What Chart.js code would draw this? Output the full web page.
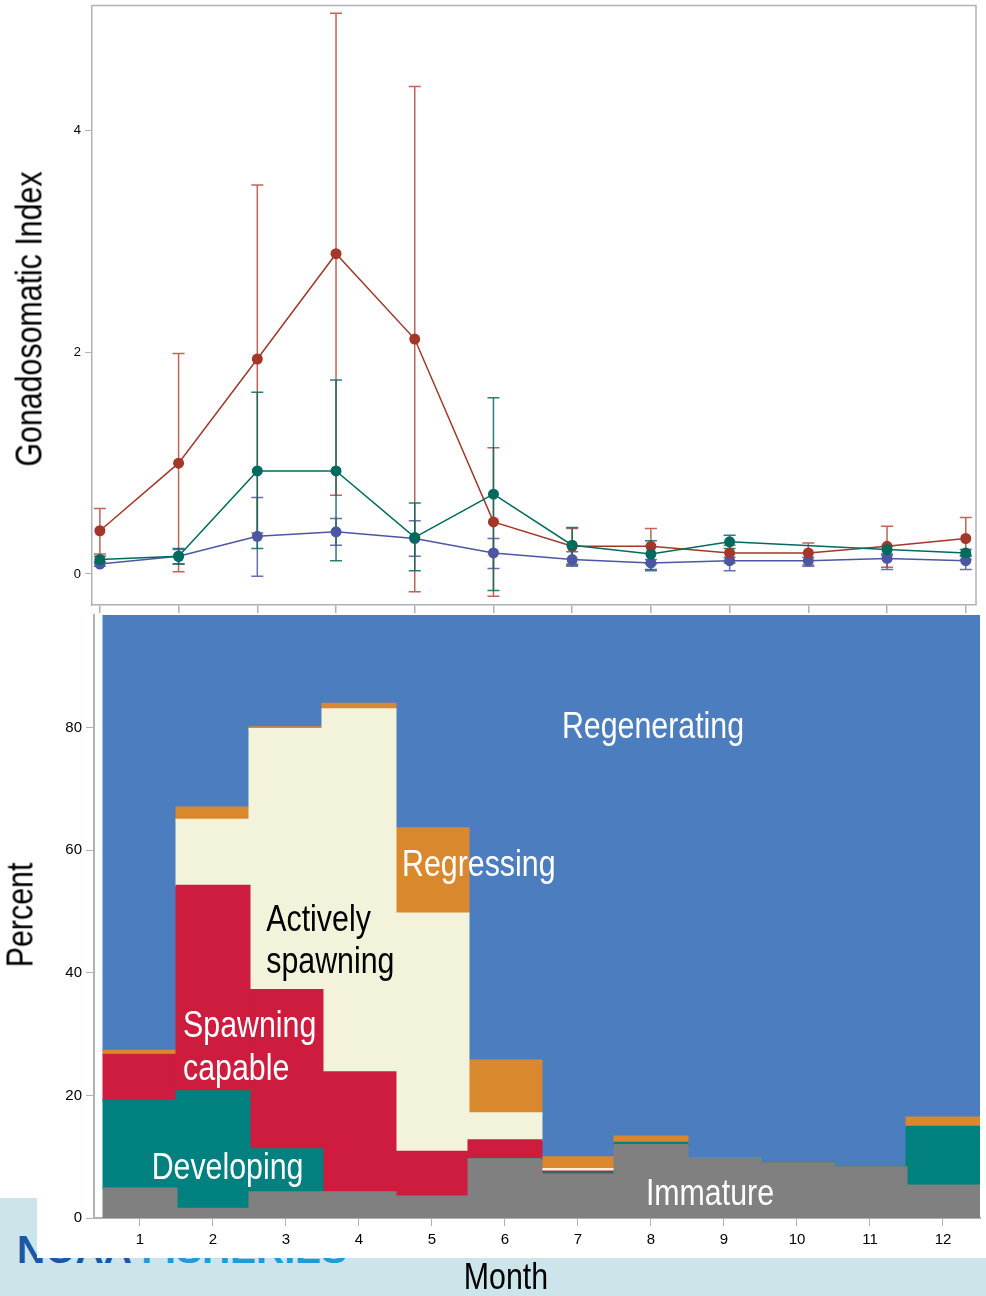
<!DOCTYPE html>
<html lang="en">
<head>
    <meta charset="UTF-8">
    <title>Gonadosomatic Index and Reproductive Phase by Month</title>
    <script src="https://cdn.jsdelivr.net/npm/chart.js"></script>
    <style>
        body { margin: 0; width: 986px; height: 1296px; position: relative; overflow: hidden; background: #cce5ea; font-family: "Liberation Sans", Arial, sans-serif; }
        .logo { position: absolute; left: 17px; top: 1230px; font: bold 39px "Liberation Sans", Arial, sans-serif; line-height: 1; white-space: nowrap; }
        .logo .noaa { color: #1b57a5; }
        .logo .fish { color: #1f9bd7; }
        .sheet { position: absolute; background: #fff; }
        canvas { position: absolute; left: 0; }
        #gsi { top: 0; }
        #phase { top: 607px; }
        .axis-title { position: absolute; font-size: 37px; line-height: 1; color: #000; white-space: nowrap; transform: translate(-50%, -50%) scaleX(0.82); }
        .axis-title.vertical { transform: translate(-50%, -50%) rotate(-90deg) scaleX(0.82); }
    </style>
</head>
<body>
    <div class="logo"><span class="noaa">NOAA</span> <span class="fish">FISHERIES</span></div>
    <div class="sheet" style="left:0; top:0; width:37px; height:1198px;"></div>
    <div class="sheet" style="left:37px; top:0; width:949px; height:1258px;"></div>

    <canvas id="gsi" width="986" height="615"></canvas>
    <canvas id="phase" width="986" height="689"></canvas>

    <div class="axis-title vertical" style="left:29px; top:319px;">Gonadosomatic Index</div>
    <div class="axis-title vertical" style="left:20px; top:915px;">Percent</div>
    <div class="axis-title" style="left:506px; top:1276px;">Month</div>

    <script>
        // months
        const months = [1, 2, 3, 4, 5, 6, 7, 8, 9, 10, 11, 12];

        // gonadosomatic index (mean, upper and lower error bar)
        const gsiRed = [0.39, 1.00, 1.94, 2.89, 2.12, 0.47, 0.25, 0.25, 0.19, 0.19, 0.25, 0.32];
        const gsiRedHigh = [0.59, 1.99, 3.51, 5.06, 4.40, 1.14, 0.41, 0.41, 0.26, 0.28, 0.43, 0.51];
        const gsiRedLow = [0.18, 0.02, 0.37, 0.71, -0.16, -0.20, 0.09, 0.09, 0.10, 0.08, 0.06, 0.13];

        const gsiTeal = [0.13, 0.16, 0.93, 0.93, 0.33, 0.72, 0.26, 0.18, 0.29, null, 0.22, 0.19];
        const gsiTealHigh = [0.16, 0.23, 1.64, 1.75, 0.64, 1.59, 0.42, 0.30, 0.35, null, 0.25, 0.22];
        const gsiTealLow = [0.10, 0.09, 0.23, 0.12, 0.03, -0.15, 0.08, 0.04, 0.23, null, 0.18, 0.16];

        const gsiBlue = [0.09, 0.16, 0.34, 0.38, 0.32, 0.19, 0.13, 0.10, 0.12, 0.12, 0.14, 0.12];
        const gsiBlueHigh = [0.11, 0.22, 0.69, 0.50, 0.48, 0.32, 0.20, 0.13, 0.15, 0.15, 0.17, 0.17];
        const gsiBlueLow = [0.07, 0.09, -0.02, 0.26, 0.16, 0.05, 0.07, 0.03, 0.03, 0.07, 0.04, 0.04];

        const gsiTicks = [0, 2, 4];

        // reproductive phase, percent of fish per month
        const immature = [4.8, 1.5, 4.2, 4.2, 3.5, 9.6, 7.1, 11.9, 9.8, 8.9, 8.3, 5.3];
        const developing = [14.4, 19.2, 7.0, 0, 0, 0, 0.2, 0.4, 0, 0, 0, 9.6];
        const spawningCapable = [7.5, 33.5, 26.0, 19.6, 7.3, 3.1, 0.3, 0, 0, 0, 0, 0];
        const activelySpawning = [0, 10.8, 42.6, 59.2, 38.9, 4.4, 0.4, 0, 0, 0, 0, 0];
        const regressing = [0.6, 2.0, 0.3, 0.9, 13.9, 8.6, 1.9, 1.0, 0, 0, 0, 1.5];
        const regenerating = [72.7, 33.0, 19.9, 16.1, 36.4, 74.3, 90.1, 86.7, 90.2, 91.1, 91.7, 83.6];

        const percentTicks = [0, 20, 40, 60, 80];

        const frameColor = '#aeb2b6';
        const tickFont = { family: '"Liberation Sans", Arial', size: 12 };

        // labels written on the phase areas (month, percent)
        const phaseNotes = [
            { text: 'Regenerating', color: '#ffffff', x: 6.78, y: 78.3 },
            { text: 'Regressing', color: '#ffffff', x: 4.59, y: 55.8 },
            { text: 'Actively', color: '#000000', x: 2.73, y: 46.9 },
            { text: 'spawning', color: '#000000', x: 2.73, y: 40.0 },
            { text: 'Spawning', color: '#ffffff', x: 1.59, y: 29.5 },
            { text: 'capable', color: '#ffffff', x: 1.59, y: 22.6 },
            { text: 'Developing', color: '#ffffff', x: 1.16, y: 6.3 },
            { text: 'Immature', color: '#ffffff', x: 7.93, y: 2.2 }
        ];

        // drop the automatic label padding so the plot areas sit where the original has them
        function noPadding(s) {
            s.paddingTop = 0; s.paddingBottom = 0; s.paddingLeft = 0; s.paddingRight = 0;
        }

        const errorBars = {
            id: 'errorBars',
            beforeDatasetsDraw(chart) {
                const { ctx, scales: { x, y } } = chart;
                ctx.save();
                ctx.lineWidth = 1.5;
                chart.data.datasets.slice().reverse().forEach(ds => {
                    ctx.strokeStyle = ds.errorColor;
                    ds.data.forEach((v, i) => {
                        if (v == null || ds.errHigh[i] == null) return;
                        const px = x.getPixelForValue(months[i]);
                        const top = y.getPixelForValue(ds.errHigh[i]);
                        const bot = y.getPixelForValue(ds.errLow[i]);
                        ctx.beginPath();
                        ctx.moveTo(px, top); ctx.lineTo(px, bot);
                        ctx.moveTo(px - 6, top); ctx.lineTo(px + 6, top);
                        ctx.moveTo(px - 6, bot); ctx.lineTo(px + 6, bot);
                        ctx.stroke();
                    });
                });
                ctx.restore();
            }
        };

        const boxFrame = {
            id: 'boxFrame',
            afterDraw(chart) {
                const { ctx, chartArea: a } = chart;
                ctx.save();
                ctx.strokeStyle = frameColor;
                ctx.lineWidth = 1.5;
                ctx.beginPath();
                ctx.moveTo(a.left, a.top); ctx.lineTo(a.right, a.top); ctx.lineTo(a.right, a.bottom);
                ctx.stroke();
                ctx.restore();
            }
        };

        const notesPlugin = {
            id: 'phaseNotes',
            afterDatasetsDraw(chart) {
                const { ctx, scales: { x, y } } = chart;
                ctx.save();
                ctx.font = '37px "Liberation Sans", Arial';
                ctx.textAlign = 'left';
                ctx.textBaseline = 'alphabetic';
                phaseNotes.forEach(n => {
                    ctx.save();
                    ctx.translate(x.getPixelForValue(n.x), y.getPixelForValue(n.y));
                    ctx.scale(0.82, 1);
                    ctx.fillStyle = n.color;
                    ctx.fillText(n.text, 0, 0);
                    ctx.restore();
                });
                ctx.restore();
            }
        };

        function gsiSeries(data, high, low, color, errorColor) {
            return {
                data: data, errHigh: high, errLow: low, errorColor: errorColor,
                borderColor: color, backgroundColor: color, borderWidth: 1.5,
                pointRadius: 5.5, pointBorderWidth: 0, pointBackgroundColor: color,
                tension: 0, spanGaps: true
            };
        }

        new Chart(document.getElementById('gsi'), {
            type: 'line',
            data: {
                labels: months,
                datasets: [
                    gsiSeries(gsiTeal, gsiTealHigh, gsiTealLow, '#006b5c', 'rgba(0, 107, 92, 0.85)'),
                    gsiSeries(gsiRed, gsiRedHigh, gsiRedLow, '#a3372a', 'rgba(176, 60, 48, 0.8)'),
                    gsiSeries(gsiBlue, gsiBlueHigh, gsiBlueLow, '#4b57a2', 'rgba(75, 87, 162, 0.85)')
                ]
            },
            options: {
                responsive: false,
                animation: false,
                layout: { padding: { top: 3, right: 10, left: 0, bottom: 0 } },
                plugins: { legend: { display: false }, tooltip: { enabled: false } },
                scales: {
                    x: {
                        type: 'linear', min: 0.9, max: 12.13, offset: false,
                        afterBuildTicks: s => { s.ticks = months.map(v => ({ value: v })); },
                        afterFit: s => { s.height = 10; noPadding(s); },
                        ticks: { display: false },
                        grid: { drawOnChartArea: false, tickLength: 8, color: frameColor, lineWidth: 1.5 },
                        border: { color: frameColor, width: 1.5 }
                    },
                    y: {
                        min: -0.28, max: 5.13,
                        afterBuildTicks: s => { s.ticks = gsiTicks.map(v => ({ value: v })); },
                        afterFit: s => { s.width = 92; noPadding(s); },
                        ticks: { font: { ...tickFont, size: 13 }, color: '#000', padding: 4 },
                        grid: { drawOnChartArea: false, tickLength: 7, color: frameColor },
                        border: { color: frameColor, width: 1.5 }
                    }
                }
            },
            plugins: [errorBars, boxFrame]
        });

        function phaseSeries(data, color) {
            return { data: data, backgroundColor: color, borderWidth: 0, inflateAmount: 1, barPercentage: 1, categoryPercentage: 1 };
        }

        new Chart(document.getElementById('phase'), {
            type: 'bar',
            data: {
                labels: months,
                datasets: [
                    phaseSeries(immature, '#808080'),
                    phaseSeries(developing, '#00807f'),
                    phaseSeries(spawningCapable, '#cd1c3d'),
                    phaseSeries(activelySpawning, '#f3f3db'),
                    phaseSeries(regressing, '#d9882e'),
                    phaseSeries(regenerating, '#4c7dbf')
                ]
            },
            options: {
                responsive: false,
                animation: false,
                layout: { padding: { top: 8, right: 6, left: 0, bottom: 0 } },
                plugins: { legend: { display: false }, tooltip: { enabled: false } },
                scales: {
                    x: {
                        type: 'linear', stacked: true, min: 0.37, max: 12.507, offset: false,
                        afterBuildTicks: s => { s.ticks = months.map(v => ({ value: v })); },
                        afterFit: s => { s.height = 78; noPadding(s); },
                        ticks: { font: { ...tickFont, size: 15 }, color: '#000', padding: 5 },
                        grid: { drawOnChartArea: false, tickLength: 8, color: frameColor, offset: false },
                        border: { color: frameColor, width: 2 }
                    },
                    y: {
                        stacked: true, min: 0, max: 98.4,
                        afterBuildTicks: s => { s.ticks = percentTicks.map(v => ({ value: v })); },
                        afterFit: s => { s.width = 94; noPadding(s); },
                        ticks: { font: { ...tickFont, size: 15 }, color: '#000', padding: 4 },
                        grid: { drawOnChartArea: false, tickLength: 8, color: frameColor },
                        border: { color: frameColor, width: 2 }
                    }
                }
            },
            plugins: [notesPlugin]
        });
    </script>
</body>
</html>
